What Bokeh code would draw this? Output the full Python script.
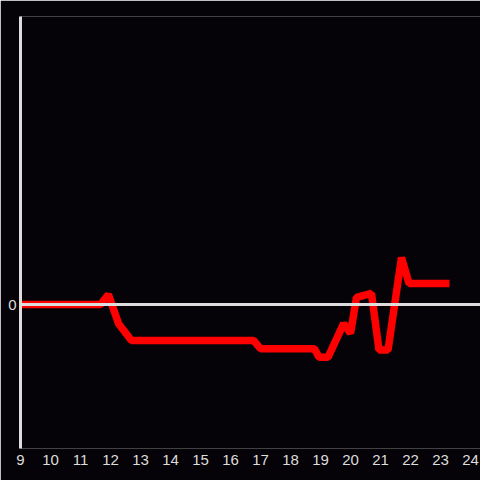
from bokeh.plotting import figure
from bokeh.models import Span, FixedTicker
from bokeh.embed import file_html
from bokeh.resources import INLINE

hours = [9, 11.67, 11.93, 12.27, 12.7, 16.77, 17.0, 18.8, 18.95, 19.25, 19.77, 20.0, 20.2, 20.7, 20.95, 21.25, 21.7, 21.95, 23.3]
values = [0, 0, 0.21, -0.4, -0.75, -0.75, -0.92, -0.92, -1.1, -1.1, -0.4, -0.6, 0.15, 0.23, -0.95, -0.95, 0.98, 0.44, 0.44]
x_ticks = list(range(9, 25))
y_ticks = [0]

bg = "#050307"
fg = "#dddddd"

p = figure(width=480, height=480, output_backend="svg", toolbar_location=None,
           x_range=(9, 9 + 460 / 30), y_range=(-3, 6),
           background_fill_color=bg, border_fill_color=bg,
           min_border_left=20, min_border_right=0, min_border_top=16, min_border_bottom=32)
p.outline_line_color = None
p.grid.visible = False

p.xaxis.ticker = FixedTicker(ticks=x_ticks)
p.xaxis.axis_line_color = None
p.xaxis.major_tick_line_color = None
p.xaxis.minor_tick_line_color = None
p.xaxis.major_label_text_color = fg
p.xaxis.major_label_text_font = "Liberation Sans"
p.xaxis.major_label_text_font_size = "15px"
p.xaxis.major_label_standoff = 6
p.xaxis.major_tick_out = 0

p.yaxis.ticker = FixedTicker(ticks=y_ticks)
p.yaxis.axis_line_color = fg
p.yaxis.axis_line_width = 3
p.yaxis.major_tick_line_color = None
p.yaxis.minor_tick_line_color = None
p.yaxis.major_tick_out = 0
p.yaxis.major_label_text_color = fg
p.yaxis.major_label_text_font = "Liberation Sans"
p.yaxis.major_label_text_font_size = "15px"
p.yaxis.major_label_standoff = 4

p.add_layout(Span(location=0, dimension="width", line_color=fg, line_width=3))

p.line(hours, values, line_color="#ff0000", line_width=7.5, line_join="bevel")

open("out.html", "w").write(file_html(p, INLINE))
